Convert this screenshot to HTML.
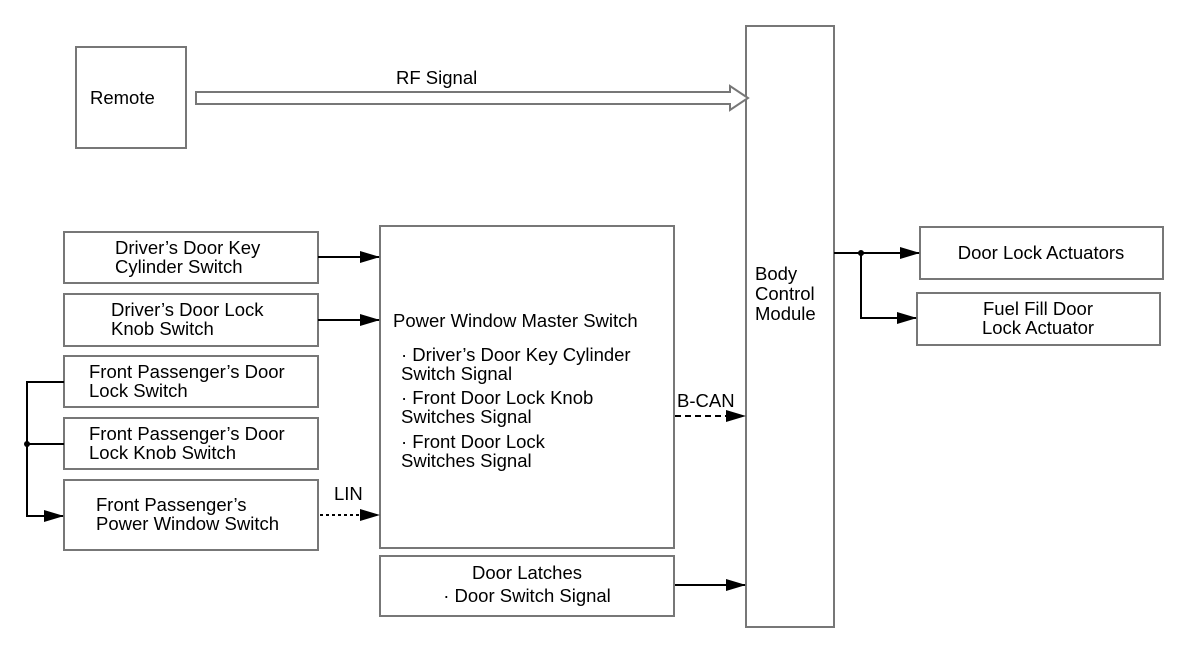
<!DOCTYPE html>
<html><head><meta charset="utf-8"><style>
html,body{margin:0;padding:0;background:#fff;}
svg{display:block;}
text{font-family:"Liberation Sans",sans-serif;font-size:18.5px;fill:#000;}
.b{fill:#fff;stroke:#777;stroke-width:2;}
.l{stroke:#000;stroke-width:2;fill:none;}
</style></head><body>
<svg width="1200" height="650" viewBox="0 0 1200 650" xmlns="http://www.w3.org/2000/svg">
<defs><marker id="a" markerWidth="20" markerHeight="12" refX="19" refY="6" orient="auto" markerUnits="userSpaceOnUse"><path d="M0,0 L20,6 L0,12 Z" fill="#000"/></marker></defs>
<rect class="b" x="76" y="47" width="110" height="101"/>
<text x="90" y="104">Remote</text>
<rect class="b" x="746" y="26" width="88" height="601"/>
<text x="755" y="280">Body</text><text x="755" y="300">Control</text><text x="755" y="320">Module</text>
<path d="M196,92 L730,92 L730,86 L748,98 L730,110 L730,104 L196,104 Z" fill="#fff" stroke="#777" stroke-width="2"/>
<text x="396" y="84">RF Signal</text>
<rect class="b" x="64" y="232" width="254" height="51"/>
<text x="115" y="254">Driver’s Door Key</text><text x="115" y="273">Cylinder Switch</text>
<rect class="b" x="64" y="294" width="254" height="52"/>
<text x="111" y="316">Driver’s Door Lock</text><text x="111" y="335">Knob Switch</text>
<rect class="b" x="64" y="356" width="254" height="51"/>
<text x="89" y="378">Front Passenger’s Door</text><text x="89" y="397">Lock Switch</text>
<rect class="b" x="64" y="418" width="254" height="51"/>
<text x="89" y="440">Front Passenger’s Door</text><text x="89" y="459">Lock Knob Switch</text>
<rect class="b" x="64" y="480" width="254" height="70"/>
<text x="96" y="511">Front Passenger’s</text><text x="96" y="530">Power Window Switch</text>
<rect class="b" x="380" y="226" width="294" height="322"/>
<text x="393" y="327">Power Window Master Switch</text>
<text x="401" y="361">· Driver’s Door Key Cylinder</text><text x="401" y="380">Switch Signal</text>
<text x="401" y="404">· Front Door Lock Knob</text><text x="401" y="423">Switches Signal</text>
<text x="401" y="448">· Front Door Lock</text><text x="401" y="467">Switches Signal</text>
<rect class="b" x="380" y="556" width="294" height="60"/>
<text x="527" y="579" text-anchor="middle">Door Latches</text>
<text x="527" y="602" text-anchor="middle">· Door Switch Signal</text>
<rect class="b" x="920" y="227" width="243" height="52"/>
<text x="1041" y="259" text-anchor="middle">Door Lock Actuators</text>
<rect class="b" x="917" y="293" width="243" height="52"/>
<text x="1038" y="315" text-anchor="middle">Fuel Fill Door</text><text x="1038" y="334" text-anchor="middle">Lock Actuator</text>
<line class="l" x1="318" y1="257" x2="379" y2="257" marker-end="url(#a)"/>
<line class="l" x1="318" y1="320" x2="379" y2="320" marker-end="url(#a)"/>
<line class="l" x1="320" y1="515" x2="379" y2="515" stroke-dasharray="3,3" marker-end="url(#a)"/>
<text x="334" y="500">LIN</text>
<line class="l" x1="675" y1="416" x2="745" y2="416" stroke-dasharray="6,4" marker-end="url(#a)"/>
<text x="677" y="407">B-CAN</text>
<line class="l" x1="675" y1="585" x2="745" y2="585" marker-end="url(#a)"/>
<path class="l" d="M64,382 L27,382 L27,516 L63,516" marker-end="url(#a)"/>
<line class="l" x1="27" y1="444" x2="64" y2="444"/>
<circle cx="27" cy="444" r="3" fill="#000"/>
<line class="l" x1="834" y1="253" x2="919" y2="253" marker-end="url(#a)"/>
<path class="l" d="M861,253 L861,318 L916,318" marker-end="url(#a)"/>
<circle cx="861" cy="253" r="3" fill="#000"/>
</svg>
</body></html>
